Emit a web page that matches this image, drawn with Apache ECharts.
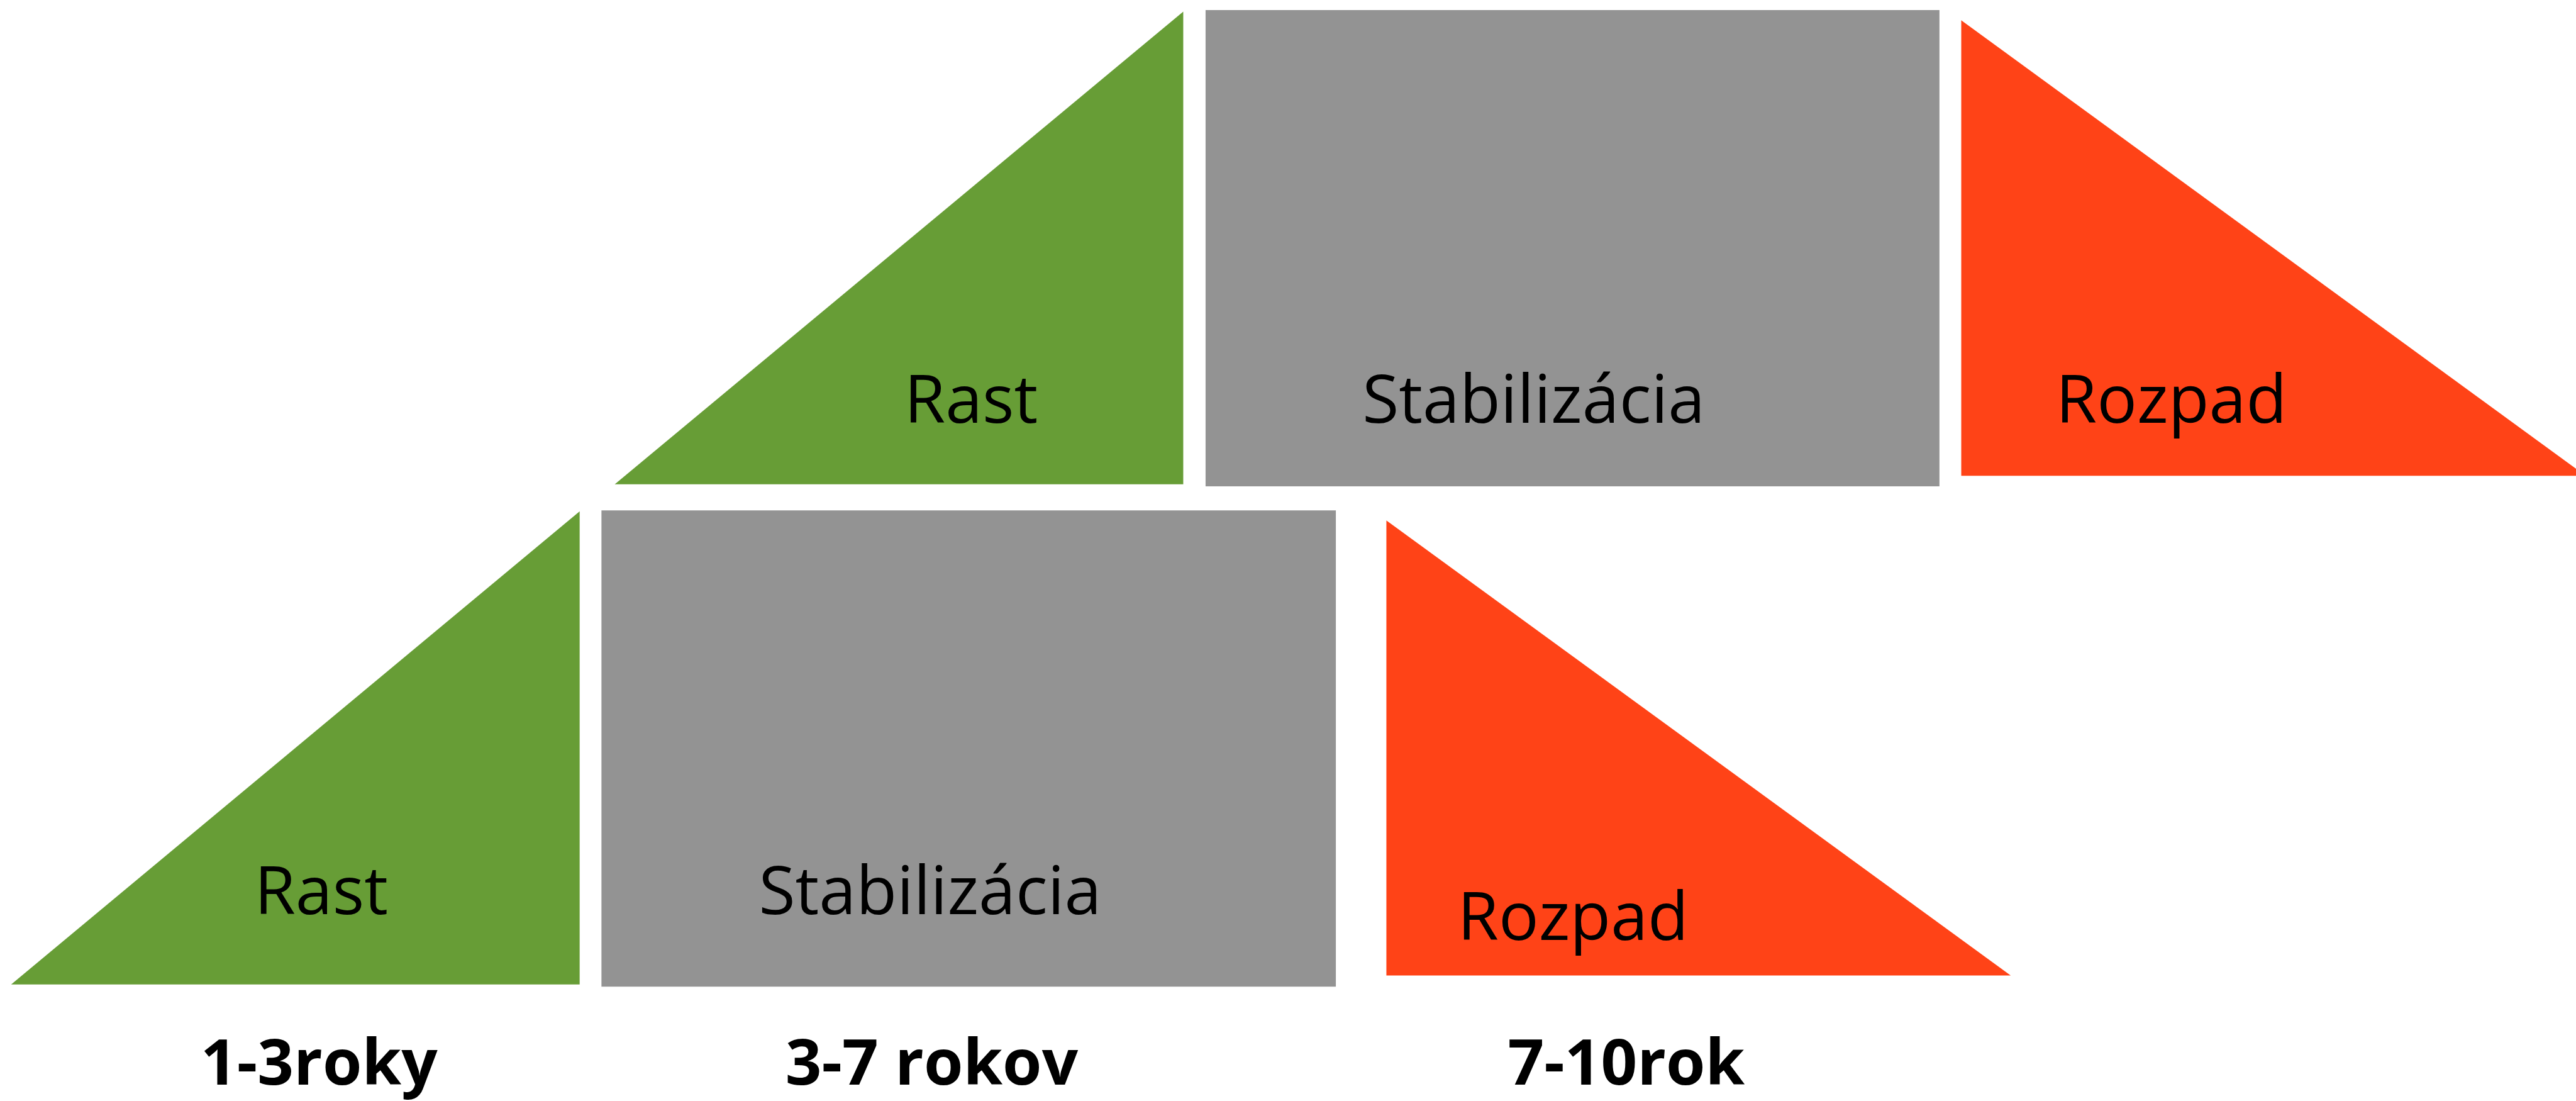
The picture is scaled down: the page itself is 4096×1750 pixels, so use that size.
<!DOCTYPE html>
<html>
<head>
<meta charset="utf-8">
<script src="https://cdn.jsdelivr.net/npm/echarts@6/dist/echarts.min.js"></script>
<style>
  html, body { margin: 0; padding: 0; background: #fff; }
  #main { width: 4096px; height: 1750px; }
</style>
</head>
<body>
<div id="main"></div>
<script>
// diagram units = pixels of the original 4844 x 2069 drawing
const phases = ['Rast', 'Stabilizácia', 'Rozpad'];
const periods = ['1-3roky', '3-7 rokov', '7-10rok'];
const phaseColors = ['#679d36', '#939393', '#ff4317'];

// lower row (one shape per phase)
const lowX0 = [21, 1131, 2607];
const lowX1 = [1090, 2512, 3781];
const lowTop = [961, 959, 978];
const lowBase = [1850, 1854, 1833];
const lowLabelX = [604, 1749, 2958];
const lowLabelY = [1682, 1682, 1731];

// upper row
const highX0 = [1156, 2267, 3688];
const highX1 = [2225, 3647, 4862];
const highTop = [22, 19, 38];
const highBase = [910, 914, 894];
const highLabelX = [1826, 2884, 4083];
const highLabelY = [759, 759, 759];

// period captions under the lower row
const periodX = [600, 1752, 3058];
const periodY = [2004, 2004, 2004];

const S = 4096 / 4844;
const FONT = '"Open Sans", "Noto Sans", sans-serif';

function shapeRows(x0, x1, top, base) {
  return phases.map((p, i) => [x0[i], x1[i], top[i], base[i], i]);
}

function renderShape(params, api) {
  const x0 = api.value(0), x1 = api.value(1);
  const top = api.value(2), base = api.value(3);
  const k = api.value(4);
  let pts;
  if (k === 0) {
    // rising triangle, right angle at bottom right
    pts = [[x0, base], [x1, top], [x1, base]];
  } else if (k === 1) {
    pts = [[x0, top], [x1, top], [x1, base], [x0, base]];
  } else {
    // falling triangle, right angle at bottom left
    pts = [[x0, top], [x0, base], [x1, base]];
  }
  return {
    type: 'polygon',
    shape: { points: pts.map(p => api.coord(p)) },
    style: { fill: phaseColors[k] }
  };
}

function textRows(xs, ys) {
  return xs.map((x, i) => [x, ys[i]]);
}

function textRenderer(texts, weight, size) {
  return function (params, api) {
    const p = api.coord([api.value(0), api.value(1)]);
    return {
      type: 'text',
      x: p[0],
      y: p[1],
      style: {
        text: texts[params.dataIndex],
        fontSize: size,
        fontWeight: weight,
        fontFamily: FONT,
        fill: '#000',
        align: 'center',
        verticalAlign: 'middle'
      }
    };
  };
}

const chart = echarts.init(document.getElementById('main'));

chart.setOption({
  animation: false,
  backgroundColor: '#fff',
  grid: { left: 0, right: 0, top: 0, bottom: 0 },
  xAxis: { type: 'value', min: 0, max: 4844, show: false },
  yAxis: { type: 'value', min: 0, max: 2069, inverse: true, show: false },
  series: [
    {
      type: 'custom',
      renderItem: renderShape,
      data: shapeRows(lowX0, lowX1, lowTop, lowBase),
      clip: false
    },
    {
      type: 'custom',
      renderItem: renderShape,
      data: shapeRows(highX0, highX1, highTop, highBase),
      clip: true
    },
    {
      type: 'custom',
      renderItem: textRenderer(phases, 'normal', Math.round(125 * S)),
      data: textRows(lowLabelX, lowLabelY),
      z: 5
    },
    {
      type: 'custom',
      renderItem: textRenderer(phases, 'normal', Math.round(125 * S)),
      data: textRows(highLabelX, highLabelY),
      z: 5
    },
    {
      type: 'custom',
      renderItem: textRenderer(periods, 'bold', Math.round(120 * S)),
      data: textRows(periodX, periodY),
      z: 5
    }
  ]
});
</script>
</body>
</html>
